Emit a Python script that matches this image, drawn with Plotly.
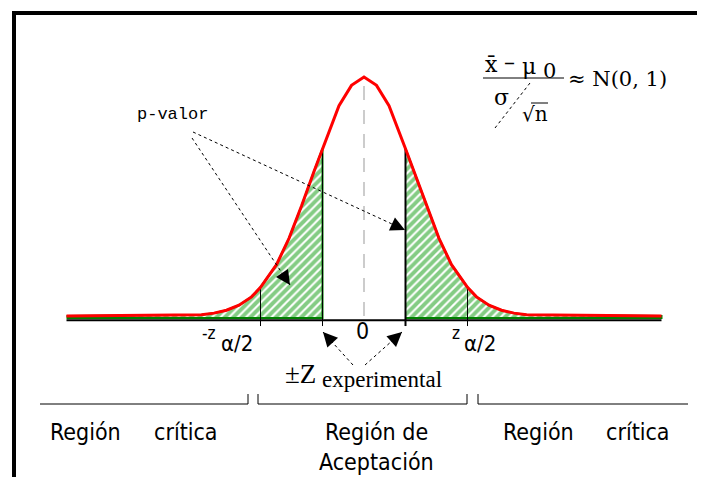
import plotly.graph_objects as go

# curve (z units, height relative to the peak)
curve_z = [-5.95, -3.25, -3.0, -2.75, -2.5, -2.25, -2.07, -1.75, -1.5, -1.25, -1.0, -0.83, -0.5, -0.25, 0.0,
           0.25, 0.5, 0.83, 1.0, 1.25, 1.5, 1.75, 2.07, 2.25, 2.5, 2.75, 3.0, 3.25, 5.95]
curve_h = [0.0, 0.005, 0.012, 0.024, 0.045, 0.08, 0.12, 0.215, 0.325, 0.46, 0.605, 0.70, 0.88, 0.965, 1.0,
           0.965, 0.88, 0.70, 0.605, 0.46, 0.325, 0.215, 0.12, 0.08, 0.045, 0.024, 0.012, 0.005, 0.0]
z_crit = [-2.07, 2.07]
z_exp = [-0.83, 0.83]
crit_labels = ["-z", "z"]
region_labels = ["Región", "crítica", "Región de", "Aceptación", "Región", "crítica"]

# page body adds an 8px margin, so the figure is shrunk and shifted by that much
OFF = 8
W, H = 705 - OFF, 477 - OFF
# reference pixel mapping used for the axis ranges
X0, SX, Y0, SY = 364, 50, 316, 239


def px(x):
    return (x - OFF) / W


def py(y):
    return 1 - (y - OFF) / H


def dx(x):
    return (x - X0) / SX


def dy(y):
    return (Y0 - y) / SY


fig = go.Figure()

# hatched p-value areas
left = [(z, h) for z, h in zip(curve_z, curve_h) if z <= z_exp[0]]
right = [(z, h) for z, h in zip(curve_z, curve_h) if z >= z_exp[1]]
base = -0.008
for part in (left, right):
    xs = [p[0] for p in part]
    ys = [p[1] for p in part]
    xs = xs + [xs[-1], xs[0]]
    ys = ys + [base, base]
    fig.add_trace(go.Scatter(
        x=xs, y=ys, mode="lines", fill="toself",
        fillcolor="white",
        fillpattern=dict(shape="/", fgcolor="#0a9a0a", bgcolor="white", size=6, solidity=0.65),
        line=dict(color="#008000", width=2), hoverinfo="skip"))

tick_low = -0.042
heights = dict(zip(curve_z, curve_h))
# vertical markers at critical and experimental values
for z in z_crit:
    fig.add_trace(go.Scatter(x=[z, z], y=[tick_low, heights[z]], mode="lines",
                             line=dict(color="black", width=1), hoverinfo="skip"))
fig.add_trace(go.Scatter(x=[z_exp[0], z_exp[0]], y=[tick_low, heights[z_exp[0]]], mode="lines",
                         line=dict(color="black", width=1), hoverinfo="skip"))
fig.add_trace(go.Scatter(x=[z_exp[1], z_exp[1]], y=[tick_low, heights[z_exp[1]]], mode="lines",
                         line=dict(color="black", width=2), hoverinfo="skip"))

# centre dashed line
fig.add_trace(go.Scatter(x=[0, 0], y=[0, 0.985], mode="lines",
                         line=dict(color="#999999", width=1, dash="14px,10px"), hoverinfo="skip"))

# baseline
fig.add_trace(go.Scatter(x=[curve_z[0], curve_z[-1]], y=[-0.018, -0.018], mode="lines",
                         line=dict(color="black", width=2), hoverinfo="skip"))

# red density curve
fig.add_trace(go.Scatter(x=curve_z, y=curve_h, mode="lines",
                         line=dict(color="#ff0000", width=3), hoverinfo="skip"))

shapes = []
# frame
shapes.append(dict(type="line", xref="paper", yref="paper", x0=px(14), x1=px(14), y0=py(11), y1=py(477),
                   line=dict(color="black", width=4)))
shapes.append(dict(type="line", xref="paper", yref="paper", x0=px(12), x1=px(705), y0=py(13), y1=py(13),
                   line=dict(color="black", width=4)))

# brackets under the axis
bk = dict(color="black", width=1)
for x0, x1, lt, rt in [(40, 248, False, True), (258, 467, True, True), (478, 688, True, False)]:
    shapes.append(dict(type="line", xref="paper", yref="paper", x0=px(x0), x1=px(x1), y0=py(404), y1=py(404), line=bk))
    if lt:
        shapes.append(dict(type="line", xref="paper", yref="paper", x0=px(x0), x1=px(x0), y0=py(404), y1=py(394), line=bk))
    if rt:
        shapes.append(dict(type="line", xref="paper", yref="paper", x0=px(x1), x1=px(x1), y0=py(404), y1=py(394), line=bk))

# dotted leader lines for the arrows
leaders = [((192, 138), (290, 285)), ((193, 132), (405, 230)), ((353, 365), (323, 332)), ((365, 365), (402, 332))]
for (tx, ty), (hx, hy) in leaders:
    shapes.append(dict(type="line", xref="x", yref="y", x0=dx(tx), y0=dy(ty), x1=dx(hx), y1=dy(hy),
                       line=dict(color="black", width=1, dash="dot")))

# formula: fraction bar, slash and root bar
shapes.append(dict(type="line", xref="paper", yref="paper", x0=px(483), x1=px(564), y0=py(78), y1=py(78),
                   line=dict(color="black", width=1)))
shapes.append(dict(type="line", xref="paper", yref="paper", x0=px(495), x1=px(530), y0=py(128), y1=py(83),
                   line=dict(color="black", width=1, dash="dot")))
shapes.append(dict(type="line", xref="paper", yref="paper", x0=px(531), x1=px(548), y0=py(103), y1=py(103),
                   line=dict(color="black", width=1)))

ann = []
# arrow heads
for (tx, ty), (hx, hy) in leaders:
    vx, vy = tx - hx, ty - hy
    n = (vx ** 2 + vy ** 2) ** 0.5
    ann.append(dict(x=dx(hx), y=dy(hy), xref="x", yref="y", ax=vx / n * 16, ay=vy / n * 16,
                    text="", showarrow=True, arrowhead=2, arrowsize=2.4, arrowwidth=1.2, arrowcolor="black"))

serif = "DejaVu Serif, Liberation Serif, serif"
tserif = "Liberation Serif, serif"
mono = "Liberation Mono, Courier New, monospace"
narrow = "Liberation Sans Narrow, DejaVu Sans Condensed, Liberation Sans, sans-serif"


def label(x, y, text, size, family, xanchor="center"):
    ann.append(dict(x=px(x), y=py(y), xref="paper", yref="paper", text=text, showarrow=False,
                    font=dict(size=size, family=family, color="black"), xanchor=xanchor, yanchor="middle"))


label(172, 115, "p-valor", 17, mono)
label(362, 331, "0", 23, narrow)
label(218, 333, crit_labels[0], 17, narrow, "right")
label(219, 343, "α/2", 22, narrow, "left")
label(462, 333, crit_labels[1], 17, narrow, "right")
label(462, 343, "α/2", 22, narrow, "left")
label(318, 374, "±Z", 27, tserif, "right")
label(320, 379, "experimental", 23, tserif, "left")

label(85, 432, region_labels[0], 23, narrow)
label(186, 432, region_labels[1], 23, narrow)
label(376, 432, region_labels[2], 23, narrow)
label(376, 462, region_labels[3], 23, narrow)
label(538, 432, region_labels[4], 23, narrow)
label(638, 432, region_labels[5], 23, narrow)

label(491, 64, "x\u0304", 22, serif)
label(509, 63, "\u2013", 22, serif)
label(529, 67, "\u03bc", 22, serif)
label(549, 71, "0", 21, serif)
label(501, 98, "σ", 22, serif)
label(535, 114, "\u221an", 20, serif)
label(566, 79, "≈ N(0, 1)", 21, serif, "left")

fig.update_layout(
    width=W, height=H, autosize=False,
    margin=dict(l=0, r=0, t=0, b=0),
    paper_bgcolor="white", plot_bgcolor="white",
    showlegend=False,
    xaxis=dict(range=[dx(OFF), dx(705)], visible=False, fixedrange=True),
    yaxis=dict(range=[dy(477), dy(OFF)], visible=False, fixedrange=True),
    shapes=shapes, annotations=ann,
)

fig.write_html("out.html")
